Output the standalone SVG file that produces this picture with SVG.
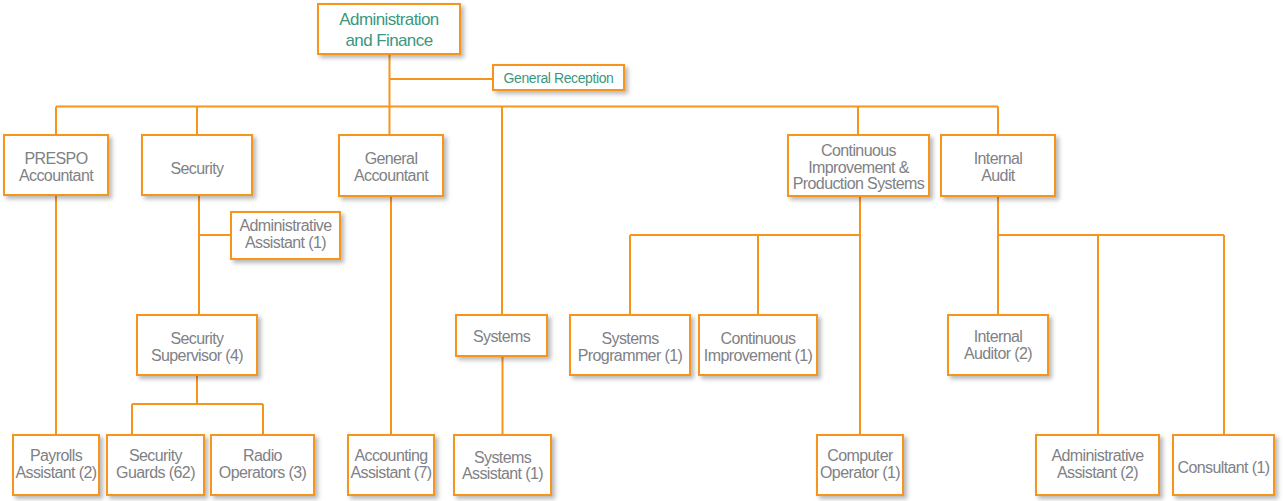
<svg xmlns="http://www.w3.org/2000/svg" width="1283" height="501" viewBox="0 0 1283 501">
<defs>
<filter id="sh" x="-20%" y="-20%" width="140%" height="150%">
<feDropShadow dx="3" dy="3" stdDeviation="2" flood-color="#000" flood-opacity="0.28"/>
</filter>
<style>
.box{fill:#fff;stroke:#f7941d;stroke-width:2;filter:url(#sh)}
.t{font-family:"Liberation Sans",Arial,sans-serif;font-size:16px;fill:#808185;text-anchor:middle;letter-spacing:-0.6px}
.top{fill:#3a9880;font-size:17px}
.rec{fill:#3a9880;font-size:14px;letter-spacing:-0.4px}
.c{fill:none;stroke:#f7941d;stroke-width:2}
</style>
</defs>
<rect width="1283" height="501" fill="#fff"/>
<g id="connectors" class="c">
<path d="M389.5 54V135"/>
<path d="M389.5 79H493"/>
<path d="M56 106.5H998"/>
<path d="M56 106.5V135M197 106.5V135M502 106.5V315M858 106.5V135M998 106.5V135"/>
<path d="M56 195V435"/>
<path d="M199 195V315M199 235H231"/>
<path d="M197 375V404M132 404H263M132 404V435M263 404V435"/>
<path d="M391 196V435"/>
<path d="M502.5 356V435"/>
<path d="M860 196V435M630 235H860M630 235V315M758 235V315"/>
<path d="M998 196V315M998 235H1224M1098 235V435M1224 235V435"/>
</g>
<g id="n-admin"><rect class="box" x="318" y="4" width="142" height="50"/><text class="t top" x="389" y="25">Administration</text><text class="t top" x="389" y="46">and Finance</text></g>
<g id="n-reception"><rect class="box" x="493" y="65" width="131" height="25"/><text class="t rec" x="558.5" y="83">General Reception</text></g>
<g id="n-prespo"><rect class="box" x="4" y="135" width="104" height="60"/><text class="t" x="56" y="164">PRESPO</text><text class="t" x="56" y="181">Accountant</text></g>
<g id="n-security"><rect class="box" x="142" y="135" width="110" height="60"/><text class="t" x="197" y="174">Security</text></g>
<g id="n-genacc"><rect class="box" x="339" y="135" width="104" height="61"/><text class="t" x="391" y="164">General</text><text class="t" x="391" y="181">Accountant</text></g>
<g id="n-cips"><rect class="box" x="788" y="135" width="141" height="61"/><text class="t" x="858.5" y="156">Continuous</text><text class="t" x="858.5" y="172.5">Improvement &amp;</text><text class="t" x="858.5" y="189">Production Systems</text></g>
<g id="n-ia"><rect class="box" x="941" y="135" width="114" height="61"/><text class="t" x="998" y="164">Internal</text><text class="t" x="998" y="181">Audit</text></g>
<g id="n-secadmin"><rect class="box" x="231" y="212" width="109" height="47"/><text class="t" x="285.5" y="231">Administrative</text><text class="t" x="285.5" y="248">Assistant (1)</text></g>
<g id="n-secsup"><rect class="box" x="137" y="315" width="120" height="60"/><text class="t" x="197" y="344">Security</text><text class="t" x="197" y="361">Supervisor (4)</text></g>
<g id="n-systems"><rect class="box" x="456" y="315" width="91" height="41"/><text class="t" x="501.5" y="341.5">Systems</text></g>
<g id="n-sysprog"><rect class="box" x="570" y="315" width="120" height="60"/><text class="t" x="630" y="344">Systems</text><text class="t" x="630" y="361">Programmer (1)</text></g>
<g id="n-ci"><rect class="box" x="699" y="315" width="118" height="60"/><text class="t" x="758" y="344">Continuous</text><text class="t" x="758" y="361">Improvement (1)</text></g>
<g id="n-iauditor"><rect class="box" x="948" y="315" width="100" height="60"/><text class="t" x="998" y="342">Internal</text><text class="t" x="998" y="359">Auditor (2)</text></g>
<g id="n-payrolls"><rect class="box" x="13" y="435" width="86" height="60"/><text class="t" x="56" y="461">Payrolls</text><text class="t" x="56" y="478">Assistant (2)</text></g>
<g id="n-guards"><rect class="box" x="107" y="435" width="97" height="60"/><text class="t" x="155.5" y="461">Security</text><text class="t" x="155.5" y="478">Guards (62)</text></g>
<g id="n-radio"><rect class="box" x="211" y="435" width="103" height="60"/><text class="t" x="262.5" y="461">Radio</text><text class="t" x="262.5" y="478">Operators (3)</text></g>
<g id="n-accasst"><rect class="box" x="348" y="435" width="86" height="60"/><text class="t" x="391" y="461">Accounting</text><text class="t" x="391" y="478">Assistant (7)</text></g>
<g id="n-sysasst"><rect class="box" x="454" y="435" width="97" height="60"/><text class="t" x="502.5" y="463">Systems</text><text class="t" x="502.5" y="479">Assistant (1)</text></g>
<g id="n-compop"><rect class="box" x="817" y="435" width="86" height="60"/><text class="t" x="860" y="461">Computer</text><text class="t" x="860" y="478">Operator (1)</text></g>
<g id="n-adminasst2"><rect class="box" x="1036" y="435" width="123" height="60"/><text class="t" x="1097.5" y="461">Administrative</text><text class="t" x="1097.5" y="478">Assistant (2)</text></g>
<g id="n-consultant"><rect class="box" x="1173" y="435" width="101" height="60"/><text class="t" x="1223.5" y="473">Consultant (1)</text></g>
</svg>
